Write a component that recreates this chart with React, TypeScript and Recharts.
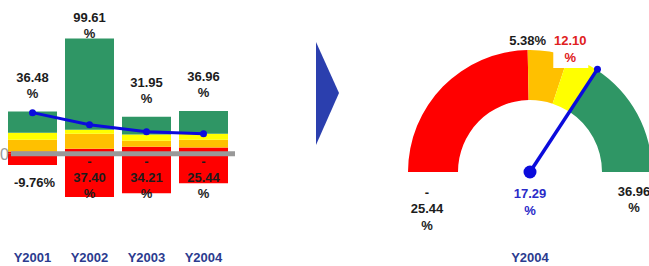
import React from "react";
import { Bar, ComposedChart, LabelList, Line, Pie, PieChart, ReferenceLine, XAxis, YAxis, Cell } from "recharts";

const years = ["Y2001", "Y2002", "Y2003", "Y2004"];
const lowValues = [-9.76, -37.4, -34.21, -25.44];
const redTops = [2.0, 4.3, 6.0, 5.38];
const orangeTops = [12.1, 17.3, 11.3, 12.1];
const yellowTops = [18.2, 20.8, 16.5, 17.29];
const highValues = [36.48, 99.61, 31.95, 36.96];
const trendValues = [35.5, 25.1, 19.0, 17.29];

const gaugeIndex = 3;

const FONT = "'Liberation Sans', Arial, sans-serif";
const RED = "#ff0000";
const ORANGE = "#ffc000";
const YELLOW = "#ffff00";
const GREEN = "#2f9665";
const BLUE = "#0b0bdc";
const NAVY = "#2b3b8f";
const INK = "#1c1c1c";

const barData = years.map((year, i) => ({
  year,
  low: lowValues[i],
  red: redTops[i],
  orange: orangeTops[i] - redTops[i],
  yellow: yellowTops[i] - orangeTops[i],
  green: highValues[i] - yellowTops[i],
  trend: trendValues[i],
}));

const gMin = lowValues[gaugeIndex];
const gMax = highValues[gaugeIndex];
const gaugeData = [
  { name: "red", value: redTops[gaugeIndex] - gMin, color: RED },
  { name: "orange", value: orangeTops[gaugeIndex] - redTops[gaugeIndex], color: ORANGE },
  { name: "yellow", value: yellowTops[gaugeIndex] - orangeTops[gaugeIndex], color: YELLOW },
  { name: "green", value: gMax - yellowTops[gaugeIndex], color: GREEN },
];

const CX = 140;
const CY = 172;
const INNER = 72;
const OUTER = 122;

function angleOf(v: number) {
  return ((180 - ((v - gMin) / (gMax - gMin)) * 180) * Math.PI) / 180;
}

function TopLabel(props: any) {
  const { x, y, width, height, index } = props;
  const top = Math.min(y, y + height);
  const cx = x + width / 2;
  const b1 = Math.max(22, top - 30);
  return (
    <g fontFamily={FONT} fontSize={13} fontWeight="bold" fill={INK} textAnchor="middle">
      <text x={cx} y={b1}>{highValues[index].toFixed(2)}</text>
      <text x={cx} y={b1 + 16}>%</text>
    </g>
  );
}

function LowLabel(props: any) {
  const { x, y, width, height, index } = props;
  const zero = Math.min(y, y + height);
  const bottom = Math.max(y, y + height);
  const cx = x + width / 2;
  const v = lowValues[index];
  if (Math.abs(v) < 10) {
    return (
      <text x={cx + 2} y={bottom + 22} fontFamily={FONT} fontSize={13} fontWeight="bold" fill={INK} textAnchor="middle">
        {v.toFixed(2)}%
      </text>
    );
  }
  return (
    <g fontFamily={FONT} fontSize={13} fontWeight="bold" fill={INK} textAnchor="middle">
      <text x={cx} y={zero + 12}>-</text>
      <text x={cx} y={zero + 28}>{Math.abs(v).toFixed(2)}</text>
      <text x={cx} y={zero + 44}>%</text>
    </g>
  );
}

function YearTick(props: any) {
  const { x, y, payload } = props;
  return (
    <text x={x} y={y + 62} textAnchor="middle" fontFamily={FONT} fontSize={13} fontWeight="bold" fill={NAVY}>
      {payload.value}
    </text>
  );
}

// zero line starts a little right of the plot edge so the "0" sits clear of it
function ZeroLine(props: any) {
  const { x1, y1, x2 } = props;
  return (
    <g>
      <line x1={x1 + 7} y1={y1} x2={x2} y2={y1} stroke="#999" strokeWidth={5} />
      <text x={0} y={y1 + 6} fontFamily={FONT} fontSize={16} fill="#9a9a9a">
        0
      </text>
    </g>
  );
}

function GaugeOverlay() {
  const needleAngle = angleOf(trendValues[gaugeIndex]);
  const tipX = CX + 123 * Math.cos(needleAngle);
  const tipY = CY - 123 * Math.sin(needleAngle);
  const a1 = angleOf(redTops[gaugeIndex]);
  const a2 = angleOf(orangeTops[gaugeIndex]);
  const l1x = CX + OUTER * Math.cos(a1);
  const l2x = CX + OUTER * Math.cos(a2) + 2;
  const sideX = (INNER + OUTER) / 2 + 6;
  return (
    <svg width={259} height={266} style={{ position: "absolute", left: 0, top: 0 }}>
      <g fontFamily={FONT} fontSize={13} fontWeight="bold" textAnchor="middle">
        <rect x={l2x - 17} y={28} width={35} height={40} fill="#fff" />
        <text x={l1x} y={45} fill={INK}>{redTops[gaugeIndex].toFixed(2)}%</text>
        <text x={l2x} y={45} fill="#e02020">{orangeTops[gaugeIndex].toFixed(2)}</text>
        <text x={l2x} y={62} fill="#e02020">%</text>
      </g>
      <line x1={CX} y1={CY} x2={tipX} y2={tipY} stroke={BLUE} strokeWidth={3.5} />
      <circle cx={tipX} cy={tipY} r={3.5} fill={BLUE} />
      <circle cx={CX} cy={CY} r={6.5} fill={BLUE} />
      <g fontFamily={FONT} fontSize={13} fontWeight="bold" textAnchor="middle">
        <text x={CX} y={198} fill="#2a2ac8">{trendValues[gaugeIndex].toFixed(2)}</text>
        <text x={CX} y={215} fill="#2a2ac8">%</text>
        <text x={CX - sideX} y={197} fill={INK}>-</text>
        <text x={CX - sideX} y={213} fill={INK}>{Math.abs(gMin).toFixed(2)}</text>
        <text x={CX - sideX} y={230} fill={INK}>%</text>
        <text x={CX + sideX + 1} y={196} fill={INK}>{gMax.toFixed(2)}</text>
        <text x={CX + sideX + 1} y={212} fill={INK}>%</text>
        <text x={CX} y={262} fill={NAVY}>{years[gaugeIndex]}</text>
      </g>
    </svg>
  );
}

export default function App() {
  return (
    <div style={{ position: "absolute", left: 0, top: 0, width: 649, height: 266, background: "#fff", overflow: "hidden" }}>
      <div style={{ position: "absolute", left: 0, top: 0 }}>
        <ComposedChart width={240} height={266} data={barData} stackOffset="sign" margin={{ top: 38, right: 5, left: 4, bottom: 0 }}>
          <XAxis
            dataKey="year"
            height={66}
            axisLine={false}
            tickLine={false}
            tickSize={0}
            tickMargin={0}
            interval={0}
            padding={{ left: 0, right: 3 }}
            tick={<YearTick />}
          />
          <YAxis hide domain={[-40, 100]} />
          <Bar dataKey="low" stackId="s" fill={RED} barSize={49} isAnimationActive={false}>
            <LabelList content={<LowLabel />} />
          </Bar>
          <Bar dataKey="red" stackId="s" fill={RED} barSize={49} isAnimationActive={false} />
          <Bar dataKey="orange" stackId="s" fill={ORANGE} barSize={49} isAnimationActive={false} />
          <Bar dataKey="yellow" stackId="s" fill={YELLOW} barSize={49} isAnimationActive={false} />
          <Bar dataKey="green" stackId="s" fill={GREEN} barSize={49} isAnimationActive={false}>
            <LabelList content={<TopLabel />} />
          </Bar>
          <ReferenceLine y={0} shape={(p: any) => <ZeroLine {...p} />} />
          <Line
            dataKey="trend"
            stroke={BLUE}
            strokeWidth={3}
            dot={{ r: 3.5, fill: BLUE, stroke: BLUE, strokeWidth: 0 }}
            isAnimationActive={false}
          />
        </ComposedChart>
      </div>
      <svg width={649} height={266} style={{ position: "absolute", left: 0, top: 0, pointerEvents: "none" }}>
        <polygon points="316,42 339,93 316,145" fill="#2b3fae" />
      </svg>
      <div style={{ position: "absolute", left: 390, top: 0, width: 259, height: 266 }}>
        <PieChart width={259} height={266} margin={{ top: 0, right: 0, bottom: 0, left: 0 }}>
          <Pie
            data={gaugeData}
            dataKey="value"
            cx={CX}
            cy={CY}
            startAngle={180}
            endAngle={0}
            innerRadius={INNER}
            outerRadius={OUTER}
            stroke="none"
            isAnimationActive={false}
          >
            {gaugeData.map((d) => (
              <Cell key={d.name} fill={d.color} />
            ))}
          </Pie>
        </PieChart>
        <GaugeOverlay />
      </div>
    </div>
  );
}
